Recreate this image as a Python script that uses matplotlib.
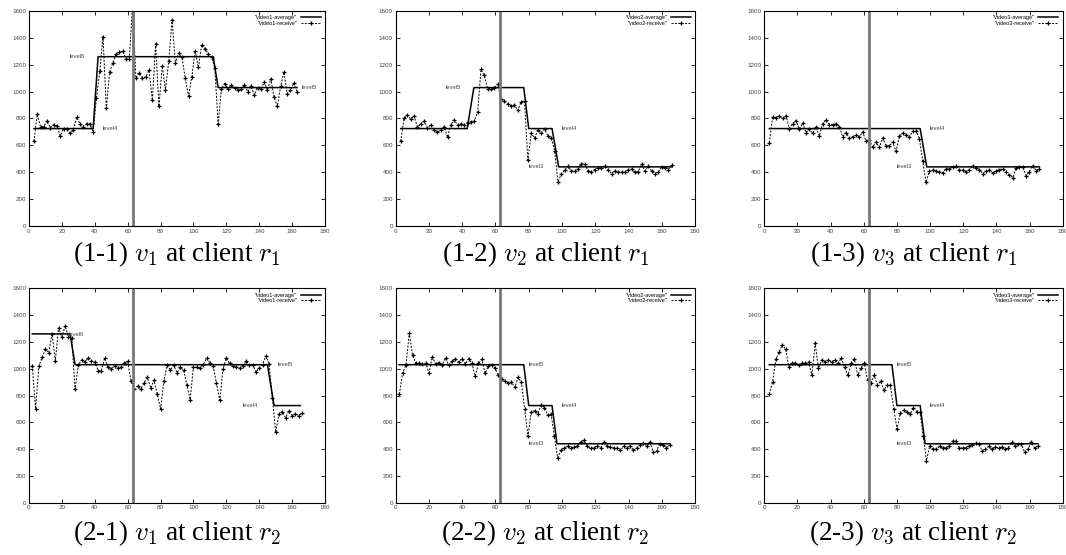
import numpy as np
import matplotlib.pyplot as plt

plt.rcParams['font.family'] = ['Liberation Sans', 'DejaVu Sans']
plt.rcParams['mathtext.fontset'] = 'cm'

# received rate samples (kbps), one list per panel
r1v1 = [630, 830, 740, 740, 785, 730, 755, 745, 670, 725,
        720, 690, 715, 810, 760, 740, 760, 760, 700, 950,
        1150, 1410, 875, 1145, 1215, 1280, 1295, 1300, 1245, 1245,
        1650, 1100, 1140, 1100, 1110, 1160, 935, 1355, 890, 1190,
        1015, 1230, 1535, 1210, 1285, 1255, 1100, 965, 1110, 1305,
        1180, 1350, 1320, 1280, 1255, 1175, 760, 1020, 1060, 1020,
        1050, 1030, 1015, 1020, 1050, 1000, 1040, 975, 1030, 1020,
        1070, 1010, 1095, 960, 890, 1040, 1145, 985, 1010, 1065,
        1000]
r1v2 = [630, 800, 825, 795, 820, 735, 760, 780, 730, 755,
        715, 700, 715, 740, 660, 755, 790, 750, 760, 755,
        770, 775, 780, 850, 1165, 1120, 1020, 1020, 1030, 1055,
        945, 930, 910, 895, 900, 860, 925, 930, 490, 690,
        655, 715, 690, 720, 670, 655, 560, 330, 385, 415, 445,
        410, 410, 425, 465, 460, 410, 405, 420, 430, 430,
        450, 420, 390, 410, 400, 405, 405, 420, 425, 400,
        405, 460, 410, 445, 410, 390, 400, 440, 435, 420,
        455]
r1v3 = [620, 810, 805, 820, 800, 820, 725, 760, 785, 720,
        765, 695, 720, 690, 735, 670, 760, 790, 755, 755,
        760, 740, 665, 695, 655, 665, 675, 665, 700, 630,
        640, 585, 625, 585, 655, 595, 595, 625, 555, 670,
        690, 680, 665, 705, 710, 650, 480, 325, 410, 415, 410,
        405, 395, 425, 425, 440, 445, 420, 415, 405, 420,
        450, 430, 420, 390, 410, 420, 395, 410, 420, 425,
        400, 380, 360, 430, 440, 440, 375, 405, 450, 410,
        425]
r2v1 = [1020, 700, 1020, 1085, 1145, 1120, 1260, 1060, 1305, 1235,
        1320, 1235, 1230, 845, 1030, 1065, 1050, 1080, 1060, 1050,
        985, 985, 1080, 1010, 1000, 1020, 1005, 1010, 1045, 1055,
        910, 850, 870, 850, 895, 935, 855, 915, 810, 700,
        910, 1025, 990, 1025, 970, 1010, 990, 880, 770, 1015,
        1010, 1005, 1030, 1080, 1045, 1020, 890, 765, 1000, 1080,
        1040, 1020, 1015, 1005, 1020, 1055, 1030, 1030, 975, 1005,
        1030, 1095, 1035, 780, 525, 660, 680, 635, 685, 650,
        665, 650, 670]
r2v2 = [810, 970, 1025, 1265, 1100, 1040, 1040, 1035, 1040, 970,
        1090, 1035, 1045, 1030, 1080, 1025, 1055, 1075, 1050, 1075,
        1035, 1075, 1040, 945, 1040, 1070, 965, 1020, 1030, 1005,
        950, 920, 905, 895, 900, 860, 935, 900, 700, 495, 680,
        685, 665, 730, 710, 655, 660, 500, 335, 395, 410, 420,
        410, 415, 420, 455, 465, 420, 405, 410, 425, 410,
        450, 420, 415, 410, 405, 390, 420, 410, 425, 390,
        410, 430, 445, 425, 450, 375, 385, 440, 430, 410,
        430]
r2v3 = [810, 900, 1070, 1125, 1180, 1145, 1010, 1045, 1040, 1025,
        1040, 1040, 1050, 955, 1190, 1005, 1065, 1050, 1065, 1050,
        1065, 1040, 1080, 1010, 950, 1040, 1070, 950, 1005, 1040,
        915, 890, 950, 880, 905, 840, 880, 875, 700, 550, 670,
        690, 675, 660, 710, 680, 675, 500, 315, 425, 400, 400,
        420, 410, 410, 425, 460, 460, 410, 410, 410, 425,
        430, 445, 440, 385, 400, 420, 400, 415, 410, 415,
        400, 410, 450, 420, 435, 435, 375, 400, 450, 410,
        420]
# first / last sample time of each receive series
r_span = [(3, 163), (3, 166), (3, 166), (2, 166), (2.2, 164.8), (3, 165)]

# average (level) curves: corner times and rates
a_t = [[3, 39, 42, 112, 115, 163],
       [3, 43, 47, 77, 80, 94, 98, 166],
       [3, 94, 98, 166],
       [2, 25, 28, 145, 149, 165],
       [2, 77, 80, 94, 97, 165],
       [3, 77, 80, 94, 97, 165]]
a_v = [[725, 725, 1260, 1260, 1030, 1030],
       [725, 725, 1030, 1030, 725, 725, 440, 440],
       [725, 725, 440, 440],
       [1260, 1260, 1030, 1030, 725, 725],
       [1030, 1030, 725, 725, 440, 440],
       [1030, 1030, 725, 725, 440, 440]]

# level labels (text, t, rate)
levels = [[('level6', 25, 1260), ('level4', 45, 725), ('level5', 166, 1030)],
          [('level5', 30, 1030), ('level4', 100, 725), ('level3', 80, 440)],
          [('level4', 100, 725), ('level3', 80, 440)],
          [('level6', 24, 1255), ('level5', 151, 1030), ('level4', 130, 725)],
          [('level5', 80, 1030), ('level4', 100, 725), ('level3', 80, 440)],
          [('level5', 80, 1030), ('level4', 100, 725), ('level3', 80, 440)]]

videos = [1, 2, 3, 1, 2, 3]
captions = [r'(1-1) $v_1$ at client $r_1$', r'(1-2) $v_2$ at client $r_1$',
            r'(1-3) $v_3$ at client $r_1$', r'(2-1) $v_1$ at client $r_2$',
            r'(2-2) $v_2$ at client $r_2$', r'(2-3) $v_3$ at client $r_2$']
switch_t = 63

recv = [r1v1, r1v2, r1v3, r2v1, r2v2, r2v3]

fig = plt.figure(figsize=(10.66, 5.55), dpi=100)
lefts = [0.0272, 0.3712, 0.7170]
widths = [0.2777, 0.2808, 0.2799]
rows = [(0.5928, 0.3874, 0.5423), (0.0942, 0.3863, 0.0396)]

for i in range(6):
    r, c = divmod(i, 3)
    bot, h, capy = rows[r]
    ax = fig.add_axes([lefts[c], bot, widths[c], h])
    y = recv[i]
    t = np.linspace(r_span[i][0], r_span[i][1], len(y))
    v = videos[i]
    ax.plot(a_t[i], a_v[i], color='black', lw=1.1, label='"video%d-average"' % v)
    ax.plot(t, y, color='black', lw=0.7, ls=(0, (2, 1.5)), marker='+', ms=3.2,
            mew=0.9, label='"video%d-receive"' % v)
    ax.axvline(switch_t, color='#777777', lw=2)
    for txt, tx, ty in levels[i]:
        ax.text(tx, ty, txt, fontsize=4.2, color='#444444', va='center', ha='left')
    ax.set_xlim(0, 180)
    ax.set_ylim(0, 1600)
    ax.set_xticks(range(0, 181, 20))
    ax.set_yticks(range(0, 1601, 200))
    ax.tick_params(direction='in', top=True, right=True, length=3, width=0.6,
                   labelsize=4.5, pad=2, labelcolor='#444444')
    for s in ax.spines.values():
        s.set_linewidth(0.8)
    ax.legend(loc='upper right', fontsize=4, frameon=False, markerfirst=False,
              labelspacing=0.05, handlelength=3.6, handletextpad=0.6,
              borderaxespad=0.4)
    fig.text(lefts[c] + widths[c] / 2, capy, captions[i], ha='center', va='center',
             fontsize=19.5, family='Liberation Serif')

fig.savefig('out.png', dpi=100)
